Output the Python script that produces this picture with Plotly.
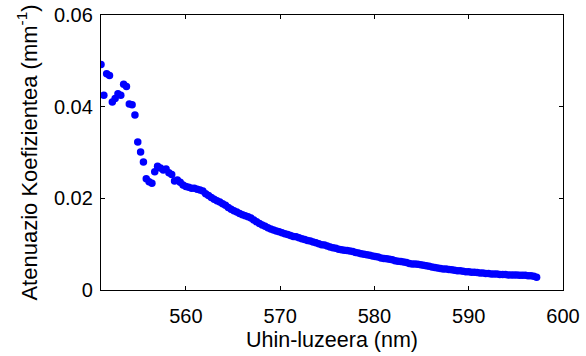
import plotly.graph_objects as go

# Wavelength samples (nm)
wavelength = [
    551.0, 551.3, 551.6, 551.9, 552.2, 552.5, 552.8, 553.1, 553.4, 553.7,
    554.0, 554.3, 554.6, 554.9, 555.2, 555.5, 555.8, 556.1, 556.4, 556.7,
    557.0, 557.3, 557.6, 557.9, 558.2, 558.5, 558.8, 559.1, 559.4, 559.7,
    560.0, 560.3, 560.6, 560.9, 561.2, 561.5, 561.8, 562.1, 562.4, 562.7,
    563.0, 563.3, 563.6, 563.9, 564.2, 564.5, 564.8, 565.1, 565.4, 565.7,
    566.0, 566.3, 566.6, 566.9, 567.2, 567.5, 567.8, 568.1, 568.4, 568.7,
    569.0, 569.3, 569.6, 569.9, 570.2, 570.5, 570.8, 571.1, 571.4, 571.7,
    572.0, 572.3, 572.6, 572.9, 573.2, 573.5, 573.8, 574.1, 574.4, 574.7,
    575.0, 575.3, 575.6, 575.9, 576.2, 576.5, 576.8, 577.1, 577.4, 577.7,
    578.0, 578.3, 578.6, 578.9, 579.2, 579.5, 579.8, 580.1, 580.4, 580.7,
    581.0, 581.3, 581.6, 581.9, 582.2, 582.5, 582.8, 583.1, 583.4, 583.7,
    584.0, 584.3, 584.6, 584.9, 585.2, 585.5, 585.8, 586.1, 586.4, 586.7,
    587.0, 587.3, 587.6, 587.9, 588.2, 588.5, 588.8, 589.1, 589.4, 589.7,
    590.0, 590.3, 590.6, 590.9, 591.2, 591.5, 591.8, 592.1, 592.4, 592.7,
    593.0, 593.3, 593.6, 593.9, 594.2, 594.5, 594.8, 595.1, 595.4, 595.7,
    596.0, 596.3, 596.6, 596.9, 597.2,
]

# Attenuation coefficient (mm^-1)
attenuation = [
    0.0492, 0.0425, 0.0472, 0.0468, 0.0410, 0.0418, 0.0428, 0.0425, 0.0449, 0.0444,
    0.0406, 0.0404, 0.0382, 0.0323, 0.0301, 0.0279, 0.0243, 0.0236, 0.0233, 0.0258,
    0.0270, 0.0266, 0.0262, 0.0264, 0.0256, 0.0252, 0.0238, 0.0240, 0.0235, 0.0229,
    0.0226, 0.0224, 0.0222, 0.0222, 0.0220, 0.0218, 0.0216, 0.0210, 0.0206, 0.0202,
    0.0198, 0.0195, 0.0192, 0.0188, 0.0185, 0.0180, 0.0176, 0.0173, 0.0170, 0.0167,
    0.0164, 0.0162, 0.0160, 0.0157, 0.0153, 0.0149, 0.0145, 0.0142, 0.0139, 0.0136,
    0.0133, 0.0131, 0.0129, 0.0127, 0.0125, 0.0123, 0.0121, 0.0119, 0.0117, 0.0116,
    0.0114, 0.0112, 0.0110, 0.0108, 0.0107, 0.0105, 0.0103, 0.0101, 0.0099, 0.0098,
    0.0096, 0.0094, 0.0092, 0.0091, 0.0089, 0.0088, 0.0087, 0.0086, 0.0085, 0.0084,
    0.0082, 0.0081, 0.0079, 0.0078, 0.0077, 0.0076, 0.0074, 0.0073, 0.0072, 0.0070,
    0.0069, 0.0068, 0.0067, 0.0066, 0.0064, 0.0063, 0.0062, 0.0061, 0.0060, 0.0058,
    0.0057, 0.0057, 0.0056, 0.0055, 0.0054, 0.0053, 0.0052, 0.0050, 0.0049, 0.0048,
    0.0047, 0.0046, 0.0046, 0.0045, 0.0044, 0.0043, 0.0042, 0.0042, 0.0041, 0.0040,
    0.0040, 0.0039, 0.0039, 0.0038, 0.0037, 0.0037, 0.0036, 0.0036, 0.0035, 0.0035,
    0.0035, 0.0034, 0.0034, 0.0034, 0.0033, 0.0033, 0.0033, 0.0033, 0.0032, 0.0032,
    0.0032, 0.0031, 0.0031, 0.0030, 0.0028,
]

x_ticks = [560, 570, 580, 590, 600]
y_ticks = [0, 0.02, 0.04, 0.06]
y_tick_text = ["0", "0.02", "0.04", "0.06"]

FONT = "Liberation Sans, Arial, sans-serif"

fig = go.Figure(
    go.Scatter(
        x=wavelength,
        y=attenuation,
        mode="markers",
        marker=dict(color="#0000FF", size=7.5, line=dict(width=0)),
        showlegend=False,
    )
)

axis_common = dict(
    showline=True,
    linecolor="black",
    linewidth=1.3,
    mirror="ticks",
    ticks="inside",
    ticklen=4,
    tickwidth=1,
    tickcolor="black",
    showgrid=False,
    zeroline=False,
    tickfont=dict(family=FONT, size=20, color="black"),
)

fig.update_xaxes(
    range=[551, 600],
    tickvals=x_ticks,
    ticklabelstandoff=8,
    title=dict(text="Uhin-luzeera (nm)", font=dict(family=FONT, size=21.5, color="black"), standoff=5),
    **axis_common,
)
fig.update_yaxes(
    range=[0, 0.06],
    tickvals=y_ticks,
    ticktext=y_tick_text,
    ticklabelstandoff=3,
    title=dict(text="Atenuazio Koefizientea (mm<sup>-1</sup>)",
               font=dict(family=FONT, size=22, color="black"), standoff=10),
    **axis_common,
)

fig.update_layout(
    width=586,
    height=356,
    margin=dict(l=101, r=23, t=15, b=66, autoexpand=False),
    paper_bgcolor="white",
    plot_bgcolor="white",
)

fig.write_html("out.html")
